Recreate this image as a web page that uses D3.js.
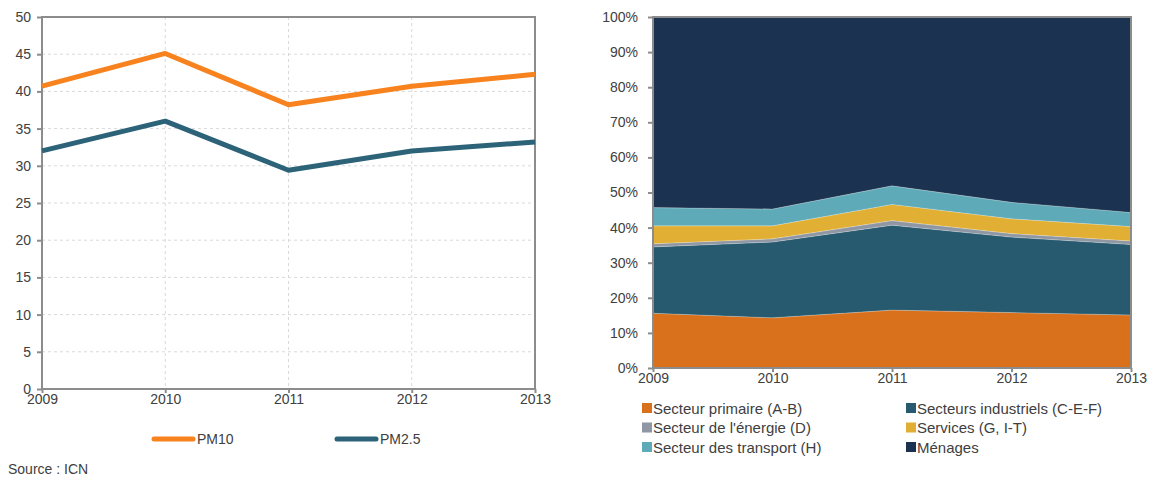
<!DOCTYPE html>
<html>
<head>
<meta charset="utf-8">
<script src="https://cdn.jsdelivr.net/npm/d3@7"></script>
<style>
  body { margin: 0; background: #fff; }
  text { font-family: "Liberation Sans", Arial, sans-serif; fill: #404040; }
</style>
</head>
<body>
<svg id="chart" width="1154" height="478"></svg>
<script>
// data
var years = ["2009", "2010", "2011", "2012", "2013"];
var pm10 = [40.7, 45.1, 38.2, 40.7, 42.3];
var pm25 = [32.0, 36.0, 29.4, 32.0, 33.2];
var lineTicks = [0, 5, 10, 15, 20, 25, 30, 35, 40, 45, 50];

var sectors = ["Secteur primaire (A-B)", "Secteurs industriels (C-E-F)", "Secteur de l'énergie (D)",
  "Services (G, I-T)", "Secteur des transport (H)", "Ménages"];
var primaire = [15.6, 14.3, 16.5, 15.8, 15.1];
var industriels = [18.9, 21.6, 24.2, 21.5, 20.1];
var energie = [0.9, 0.9, 1.3, 1.0, 1.0];
var services = [5.1, 3.7, 4.6, 4.2, 4.1];
var transport = [5.2, 4.8, 5.3, 4.7, 4.0];
var menages = [54.3, 54.7, 48.1, 52.8, 55.7];
var pctTicks = [0, 10, 20, 30, 40, 50, 60, 70, 80, 90, 100];

var svg = d3.select("#chart");
var axisColor = "#8c8c8c";

// ---------- left : line chart ----------
var x1 = d3.scalePoint().domain(years).range([42, 535]);
var y1 = d3.scaleLinear().domain([0, 50]).range([389, 17]);

var g1 = svg.append("g");

// grid
g1.selectAll("line.hgrid").data(lineTicks.filter(function(d){ return d > 0 && d < 50; }))
  .enter().append("line").attr("class", "hgrid")
  .attr("x1", 42).attr("x2", 535)
  .attr("y1", function(d){ return y1(d); }).attr("y2", function(d){ return y1(d); })
  .attr("stroke", "#d9d9d9").attr("stroke-dasharray", "3,3");
g1.selectAll("line.vgrid").data(years.slice(1, 4))
  .enter().append("line").attr("class", "vgrid")
  .attr("x1", function(d){ return x1(d); }).attr("x2", function(d){ return x1(d); })
  .attr("y1", 17).attr("y2", 389)
  .attr("stroke", "#d9d9d9").attr("stroke-dasharray", "3,3");

// frame
g1.append("rect").attr("x", 42).attr("y", 17).attr("width", 493).attr("height", 372)
  .attr("fill", "none").attr("stroke", axisColor).attr("stroke-width", 2);

var yAx1 = g1.append("g").attr("transform", "translate(42,0)")
  .call(d3.axisLeft(y1).tickValues(lineTicks).tickSize(5).tickPadding(6));
var xAx1 = g1.append("g").attr("transform", "translate(0,389)")
  .call(d3.axisBottom(x1).tickSize(4).tickPadding(3));
[yAx1, xAx1].forEach(function(a){
  a.select(".domain").remove();
  a.selectAll("line").attr("stroke", axisColor).attr("stroke-width", 2);
  a.selectAll("text").attr("font-size", 14).attr("fill", "#404040")
    .style("font-family", "'Liberation Sans', Arial, sans-serif");
});
xAx1.selectAll("text").attr("dy", "0.6em");

var line1 = d3.line()
  .x(function(d, i){ return x1(years[i]); })
  .y(function(d){ return y1(d); });

var lineSeries = [
  {name: "PM10", values: pm10, color: "#f7821e", lx: 154},
  {name: "PM2.5", values: pm25, color: "#2c6379", lx: 337}
];

g1.selectAll("path.series").data(lineSeries).enter().append("path")
  .attr("class", "series")
  .attr("d", function(d){ return line1(d.values); })
  .attr("fill", "none").attr("stroke", function(d){ return d.color; })
  .attr("stroke-width", 5).attr("stroke-linejoin", "round");

var leg1 = g1.selectAll("g.leg").data(lineSeries).enter().append("g").attr("class", "leg");
leg1.append("line")
  .attr("x1", function(d){ return d.lx; }).attr("x2", function(d){ return d.lx + 39; })
  .attr("y1", 439).attr("y2", 439)
  .attr("stroke", function(d){ return d.color; }).attr("stroke-width", 5).attr("stroke-linecap", "round");
leg1.append("text")
  .attr("x", function(d){ return d.lx + 43; }).attr("y", 444)
  .attr("font-size", 14).text(function(d){ return d.name; });

svg.append("text").attr("x", 8).attr("y", 474).attr("font-size", 14).attr("fill", "#222")
  .text("Source : ICN");

// ---------- right : stacked area ----------
var x2 = d3.scalePoint().domain(years).range([653, 1131]);
var y2 = d3.scaleLinear().domain([0, 100]).range([368, 17]);

var areaColors = ["#d9701c", "#275a6e", "#8e97a3", "#e1af33", "#5eaab8", "#1b3350"];
var layers = [primaire, industriels, energie, services, transport, menages];

var rows = years.map(function(y, i){
  var r = {year: y};
  sectors.forEach(function(s, k){ r[s] = layers[k][i]; });
  return r;
});
var stacked = d3.stack().keys(sectors)(rows);

var area2 = d3.area()
  .x(function(d){ return x2(d.data.year); })
  .y0(function(d){ return y2(d[0]); })
  .y1(function(d){ return y2(d[1]); });

var g2 = svg.append("g");
g2.selectAll("path.layer").data(stacked).enter().append("path")
  .attr("class", "layer")
  .attr("d", area2)
  .attr("fill", function(d, i){ return areaColors[i]; })
  .attr("stroke", "#ffffff").attr("stroke-opacity", 0.35).attr("stroke-width", 0.6);

g2.append("rect").attr("x", 653).attr("y", 17).attr("width", 478).attr("height", 351)
  .attr("fill", "none").attr("stroke", axisColor).attr("stroke-width", 2);

var yAx2 = g2.append("g").attr("transform", "translate(653,0)")
  .call(d3.axisLeft(y2).tickValues(pctTicks).tickSize(5).tickPadding(10)
    .tickFormat(function(d){ return d + "%"; }));
var xAx2 = g2.append("g").attr("transform", "translate(0,368)")
  .call(d3.axisBottom(x2).tickSize(4).tickPadding(3));
[yAx2, xAx2].forEach(function(a){
  a.select(".domain").remove();
  a.selectAll("line").attr("stroke", axisColor).attr("stroke-width", 2);
  a.selectAll("text").attr("font-size", 14).attr("fill", "#404040")
    .style("font-family", "'Liberation Sans', Arial, sans-serif");
});
xAx2.selectAll("text").attr("dy", "0.6em");

// legend
var leg2 = g2.selectAll("g.leg2").data(sectors).enter().append("g").attr("class", "leg2")
  .attr("transform", function(d, i){
    var col = i % 2, row = Math.floor(i / 2);
    return "translate(" + (642 + col * 264) + "," + (408 + row * 19.5) + ")";
  });
leg2.append("rect").attr("x", 0).attr("y", -5).attr("width", 10).attr("height", 10)
  .attr("fill", function(d, i){ return areaColors[i]; });
leg2.append("text").attr("x", 11).attr("y", 5.5).attr("font-size", 15)
  .text(function(d){ return d; });
</script>
</body>
</html>
